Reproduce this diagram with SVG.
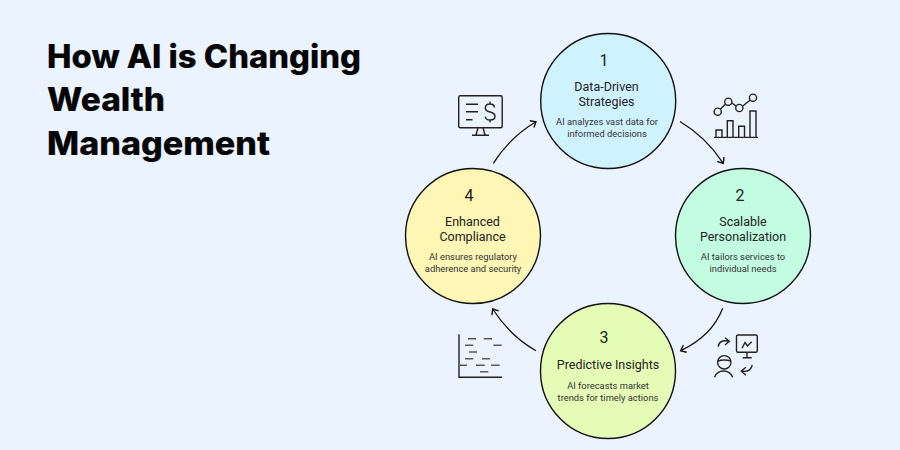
<svg xmlns="http://www.w3.org/2000/svg" width="900" height="450" viewBox="0 0 900 450">
<defs>
<marker id="ah" viewBox="0 0 12 12" refX="10" refY="6" markerWidth="12" markerHeight="12" markerUnits="userSpaceOnUse" orient="auto"><path d="M5.200 2 L10 6 L5.200 10" fill="none" stroke="#111" stroke-width="1.400"/></marker>
</defs>
<style>
.t{font-family:Inter,"Liberation Sans",sans-serif;font-weight:800;font-size:32px;fill:#050505;stroke:#050505;stroke-width:.15}
.c{stroke:#111;stroke-width:1.4}
.n{font-family:Roboto,sans-serif;font-size:16px;fill:#222;text-anchor:middle}
.h{font-family:Roboto,sans-serif;font-size:12.5px;fill:#222;text-anchor:middle}
.d{font-family:Roboto,sans-serif;font-size:9.35px;fill:#333;text-anchor:middle}
.i{fill:none;stroke:#222;stroke-width:1.4}
.x{fill:none;stroke:#333;stroke-width:1.600;stroke-opacity:.8}
.l{fill:none;stroke:#111;stroke-width:1.300}
</style>
<rect width="900" height="450" fill="#ebf3ff"/>
<g id="title">
<text class="t" x="47" y="68" textLength="314" lengthAdjust="spacingAndGlyphs">How AI is Changing</text>
<text class="t" x="47" y="111" textLength="118" lengthAdjust="spacingAndGlyphs">Wealth</text>
<text class="t" x="47" y="155" textLength="223" lengthAdjust="spacingAndGlyphs">Management</text>
</g>
<g id="connectors">
<path class="l" d="M680 121.500 Q706 137 723.300 163.300" marker-end="url(#ah)"/>
<path class="l" d="M722.700 308.300 Q712 336 680.700 350.700" marker-end="url(#ah)"/>
<path class="l" d="M536 350.700 Q510 336 492.700 309" marker-end="url(#ah)"/>
<path class="l" d="M493.300 163.300 Q510 137 536 121.700" marker-end="url(#ah)"/>
</g>
<g id="node1">
<circle class="c" cx="608.200" cy="101" r="67.500" fill="#cff2ff"/>
<text class="n" x="604" y="65.500">1</text>
<text class="h" x="606.500" y="91">Data-Driven</text>
<text class="h" x="606.500" y="106">Strategies</text>
<text class="d" x="607" y="125">AI analyzes vast data for</text>
<text class="d" x="607" y="137">informed decisions</text>
</g>
<g id="node2">
<circle class="c" cx="743" cy="236" r="67.500" fill="#c3fde1"/>
<text class="n" x="740" y="201">2</text>
<text class="h" x="743" y="226">Scalable</text>
<text class="h" x="743" y="241">Personalization</text>
<text class="d" x="743" y="260">AI tailors services to</text>
<text class="d" x="743" y="272">individual needs</text>
</g>
<g id="node3">
<circle class="c" cx="608" cy="371" r="67.500" fill="#e5fcb6"/>
<text class="n" x="604" y="343">3</text>
<text class="h" x="608" y="369">Predictive Insights</text>
<text class="d" x="608" y="389">AI forecasts market</text>
<text class="d" x="608" y="401">trends for timely actions</text>
</g>
<g id="node4">
<circle class="c" cx="473" cy="236" r="67.500" fill="#fdf6b4"/>
<text class="n" x="469" y="201">4</text>
<text class="h" x="472.500" y="226">Enhanced</text>
<text class="h" x="472.500" y="241">Compliance</text>
<text class="d" x="473" y="260">AI ensures regulatory</text>
<text class="d" x="473" y="272">adherence and security</text>
</g>
<g id="icon-chart">
<path class="i" d="M714 137.400H758M716 137V130H722V137M727.300 137V120.700H733V137M738.700 137V126.300H744.500V137M750 137V111H756V137"/>
<path class="i" d="M720.500 109L725.700 104M732 103L736 106M742.800 106L750 100.200"/>
<circle class="i" cx="717.700" cy="111.700" r="3.600"/><circle class="i" cx="728.300" cy="101.700" r="3.600"/><circle class="i" cx="739.300" cy="108" r="3.600"/><circle class="i" cx="753" cy="97.700" r="3.600"/>
</g>
<g id="icon-monitor">
<rect class="i" x="458.700" y="95.700" width="43.500" height="32" rx="1.500"/>
<path class="i" d="M466 104.300H478M466 111.700H478M466 119.700H472.500"/>
<path class="i" d="M478 127.700L476 135M483 127.700L485 135M472 135.300H489"/>
<path class="i" d="M494.500 107.500Q494 104 490 104Q485.300 104 485.300 108Q485.300 111 490 112Q495 113 495 116.500Q495 120 490 120Q485.500 120 485.300 116.500M490 101.500V104M490 120V122.500"/>
</g>
<g id="icon-person">
<rect class="i" x="736.500" y="335" width="20.800" height="17.300" rx="1.500"/>
<path class="i" d="M742 348.300L745 342.500L747.500 346L751.700 341.700M747 352.300V357.700M742.700 357.700H751.700"/>
<path class="i" d="M718.300 346.700Q719 339 729.300 341.300M725 337.700L729.300 341.300L725 345"/>
<circle class="i" cx="724.300" cy="362.300" r="6.700"/>
<path class="i" d="M717.800 361Q724 359 731 361M714.500 377.300Q717 371 723.500 371Q730 371 732.700 377.300"/>
<path class="i" d="M752.300 365Q750 373 741.700 371M746 367.300L741.300 371L746 375.300"/>
</g>
<g id="icon-scatter">
<path class="i" d="M459 334.300V377.300H502"/>
<path class="x" d="M468 338.700H476M483.700 338.700H492M465 345.300H473.300M493.300 345.300H501.700M469 352H477M465 358.700H473.300M482 358.700H490M460 365.300H467M476 365.300H484.700M491 365.300H499.700M480 371.700H488.300"/>
</g>
</svg>
